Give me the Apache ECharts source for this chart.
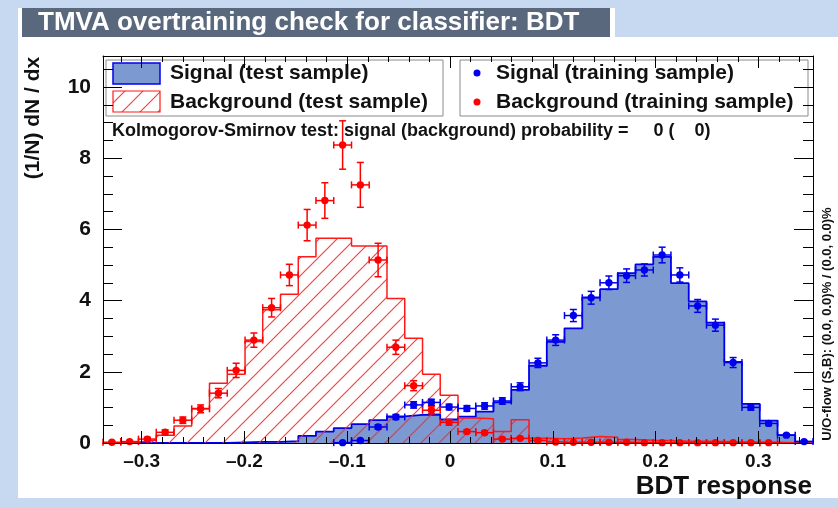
<!DOCTYPE html>
<html><head><meta charset="utf-8">
<script src="https://cdn.jsdelivr.net/npm/echarts@6/dist/echarts.min.js"></script>
<style>html,body{margin:0;padding:0;background:#c6d9f1;}#c{width:838px;height:508px;}</style>
</head><body><div id="c"></div>
<script>
// ---- data ----
const binEdges = [-0.3376,-0.3203,-0.3031,-0.2858,-0.2685,-0.2513,-0.2340,-0.2167,-0.1994,-0.1822,
  -0.1649,-0.1476,-0.1304,-0.1131,-0.0958,-0.0786,-0.0613,-0.0440,-0.0267,-0.0095,
  0.0078,0.0251,0.0423,0.0596,0.0769,0.0942,0.1114,0.1287,0.1460,0.1632,
  0.1805,0.1978,0.2150,0.2323,0.2496,0.2669,0.2841,0.3014,0.3187,0.3359,0.3532];
const signalTest = [0,0,0,0,0,0,0,0.02,0.03,0.03,
  0.05,0.20,0.32,0.42,0.53,0.64,0.75,0.79,0.80,0.66,
  0.74,0.88,1.14,1.49,2.17,2.84,3.22,4.09,4.32,4.77,
  5.02,5.23,4.49,3.98,3.38,2.28,1.10,0.63,0.22,0.04];
const backgroundTest = [0,0.03,0.08,0.22,0.48,0.97,1.68,1.93,2.85,3.74,
  4.18,5.23,5.75,5.75,5.53,5.53,4.06,2.94,1.93,1.34,
  0.70,0.68,0.32,0.65,0.13,0.12,0.14,0.18,0.16,0.10,
  0.08,0.07,0.05,0.05,0.04,0.03,0.02,0.02,0.01,0];
const signalTrain = [null,null,null,null,null,null,null,null,null,null,
  null,null,null,0.01,0.07,0.45,0.73,1.07,1.14,1.01,
  0.97,1.04,1.18,1.58,2.25,2.89,3.58,4.08,4.50,4.70,
  4.86,5.28,4.72,3.85,3.31,2.26,1.00,0.55,0.22,0.04];
const signalTrainErr = [null,null,null,null,null,null,null,null,null,null,
  null,null,null,0.01,0.03,0.06,0.07,0.09,0.09,0.08,
  0.08,0.09,0.09,0.11,0.13,0.15,0.17,0.18,0.19,0.19,
  0.17,0.22,0.20,0.18,0.17,0.14,0.08,0.06,0.04,0.02];
const backgroundTrain = [0.02,0.04,0.11,0.30,0.64,0.96,1.40,2.04,2.89,3.80,
  4.72,6.12,6.81,8.37,7.25,5.14,2.69,1.61,0.92,0.58,
  0.32,0.29,0.11,0.13,0.07,0.03,0.02,0.02,0.02,0.02,
  0.01,0.01,0.01,0.01,0.01,0.01,0.01,0.01,null,null];
const backgroundTrainErr = [0.02,0.03,0.05,0.07,0.09,0.11,0.13,0.20,0.20,0.26,
  0.30,0.44,0.50,0.68,0.63,0.47,0.20,0.14,0.10,0.08,
  0.05,0.05,0.03,0.03,0.02,0.01,0.01,0.01,0.01,0.01,
  0.01,0.01,0.01,0.01,0.01,0.01,0.01,0.01,null,null];
const xTickValues = [-0.3,-0.2,-0.1,0,0.1,0.2,0.3];
const xTickLabels = ['\u20130.3','\u20130.2','\u20130.1','0','0.1','0.2','0.3'];
const xMinorValues = [-0.32,-0.28,-0.26,-0.24,-0.22,-0.18,-0.16,-0.14,-0.12,-0.08,-0.06,-0.04,-0.02,
  0.02,0.04,0.06,0.08,0.12,0.14,0.16,0.18,0.22,0.24,0.26,0.28,0.32,0.34];
const yTickValues = [0,2,4,6,8,10];
const yTickLabels = ['0','2','4','6','8','10'];
const yMinorValues = [0.5,1,1.5,2.5,3,3.5,4.5,5,5.5,6.5,7,7.5,8.5,9,9.5,10.5];
const yMax = 10.87;
const titleText = 'TMVA overtraining check for classifier: BDT';
const legendLabels = ['Signal (test sample)','Background (test sample)','Signal (training sample)','Background (training sample)'];
const ksText = 'Kolmogorov-Smirnov test: signal (background) probability =     0 (    0)';
const overflowText = 'U/O-flow (S,B): (0.0, 0.0)% / (0.0, 0.0)%';

// ---- rendering ----
const FONT = "'Liberation Sans', Arial, Helvetica, sans-serif";
const SIG_LINE = '#0000ee', SIG_FILL = '#7d99d1', BKG = '#ff1a1a';

function hatchCanvas(){
  const c = document.createElement('canvas'); c.width = 18; c.height = 18;
  const g = c.getContext('2d');
  g.strokeStyle = 'rgba(245,45,45,0.9)'; g.lineWidth = 1.2;
  g.beginPath();
  g.moveTo(0,18); g.lineTo(18,0);
  g.moveTo(-3,3); g.lineTo(3,-3);
  g.moveTo(15,21); g.lineTo(21,15);
  g.stroke();
  return c;
}
const hatch = {image: hatchCanvas(), repeat: 'repeat'};

function stepData(vals){
  return binEdges.map((e,k) => [e, vals[Math.min(k, vals.length-1)]]);
}
function pointData(vals, errs){
  const out = [];
  vals.forEach((v,k) => {
    if (v == null) return;
    out.push([(binEdges[k]+binEdges[k+1])/2, v, errs[k], (binEdges[k+1]-binEdges[k])/2]);
  });
  return out;
}
function errRender(color){
  return function(params, api){
    const x = api.value(0), y = api.value(1), e = api.value(2), hw = api.value(3);
    const c = api.coord([x,y]), l = api.coord([x-hw,y]), r = api.coord([x+hw,y]);
    const t = api.coord([x,y+e]), b = api.coord([x,y-e]);
    const cap = 3.5, st = {stroke: color, lineWidth: 1.5};
    return {type:'group', children:[
      {type:'line', shape:{x1:l[0],y1:l[1],x2:r[0],y2:r[1]}, style:st},
      {type:'line', shape:{x1:l[0],y1:l[1]-cap,x2:l[0],y2:l[1]+cap}, style:st},
      {type:'line', shape:{x1:r[0],y1:r[1]-cap,x2:r[0],y2:r[1]+cap}, style:st},
      {type:'line', shape:{x1:t[0],y1:t[1],x2:b[0],y2:b[1]}, style:st},
      {type:'line', shape:{x1:t[0]-cap,y1:t[1],x2:t[0]+cap,y2:t[1]}, style:st},
      {type:'line', shape:{x1:b[0]-cap,y1:b[1],x2:b[0]+cap,y2:b[1]}, style:st},
      {type:'circle', shape:{cx:c[0],cy:c[1],r:3.7}, style:{fill:color}}
    ]};
  };
}

const X0 = binEdges[0], X1 = binEdges[binEdges.length-1];
const blackLine = {color:'#000', width:1};
function xAx(pos, values, len, withLine, withLabel){
  return {type:'value', position:pos, min:X0, max:X1, z:10,
    splitLine:{show:false},
    axisLine:{show:withLine, onZero:false, lineStyle:blackLine},
    axisTick:{show:true, inside:true, length:len, customValues:values, lineStyle:blackLine},
    axisLabel:{show:withLabel, customValues:values, margin:9,
      formatter:(v)=>{const i = xTickValues.findIndex(t=>Math.abs(t-v)<1e-9); return i<0?'':xTickLabels[i];},
      fontSize:19, fontWeight:'bold', fontFamily:FONT, color:'#111'}};
}
function yAx(pos, values, len, withLine, withLabel){
  return {type:'value', position:pos, min:0, max:yMax, z:10,
    splitLine:{show:false},
    axisLine:{show:withLine, onZero:false, lineStyle:blackLine},
    axisTick:{show:true, inside:true, length:len, customValues:values, lineStyle:blackLine},
    axisLabel:{show:withLabel, customValues:values, margin:12,
      formatter:(v)=>{const i = yTickValues.findIndex(t=>Math.abs(t-v)<1e-9); return i<0?'':yTickLabels[i];},
      fontSize:21, fontWeight:'bold', fontFamily:FONT, color:'#111'}};
}

const chart = echarts.init(document.getElementById('c'), null, {renderer:'canvas', width:838, height:508});
chart.setOption({
  animation:false,
  backgroundColor:'transparent',
  grid:{left:103, top:56, width:710, height:387, containLabel:false},
  xAxis:[
    xAx('bottom', xTickValues, 12, true, true),
    xAx('bottom', xMinorValues, 6, false, false),
    xAx('top', xTickValues, 12, true, false),
    xAx('top', xMinorValues, 6, false, false)
  ],
  yAxis:[
    yAx('left', yTickValues, 19, true, true),
    yAx('left', yMinorValues, 10, false, false),
    yAx('right', yTickValues, 19, true, false),
    yAx('right', yMinorValues, 10, false, false)
  ],
  series:[
    {name:legendLabels[0], type:'line', step:'end', data:stepData(signalTest), symbol:'none', z:2,
      lineStyle:{color:SIG_LINE, width:1.8}, areaStyle:{color:SIG_FILL, opacity:1}},
    {name:legendLabels[1], type:'line', step:'end', data:stepData(backgroundTest), symbol:'none', z:3,
      lineStyle:{color:BKG, width:1.5}, areaStyle:{color:hatch, opacity:1}},
    {name:legendLabels[2], type:'custom', renderItem:errRender(SIG_LINE), data:pointData(signalTrain, signalTrainErr), z:5},
    {name:legendLabels[3], type:'custom', renderItem:errRender('#ff0000'), data:pointData(backgroundTrain, backgroundTrainErr), z:5}
  ],
  graphic:[
    {type:'rect', z:-100, shape:{x:18,y:37,width:820,height:461}, style:{fill:'#ffffff'}},
    {type:'rect', z:-100, shape:{x:18,y:8,width:597,height:30}, style:{fill:'#ffffff'}},
    {type:'rect', z:-99, shape:{x:22,y:8,width:588,height:29}, style:{fill:'#59687d'}},
    {type:'text', z:-98, x:38, y:23, style:{text:titleText, fill:'#ffffff', font:'bold 26px '+FONT, textVerticalAlign:'middle', verticalAlign:'middle'}},
    // legend boxes
    {type:'rect', z:1, shape:{x:106,y:60,width:337,height:56}, style:{fill:'#ffffff', stroke:'#8a8a8a', lineWidth:1}},
    {type:'rect', z:1, shape:{x:460,y:60,width:348,height:56}, style:{fill:'#ffffff', stroke:'#8a8a8a', lineWidth:1}},
    {type:'rect', z:1, shape:{x:113,y:63,width:47,height:21}, style:{fill:SIG_FILL, stroke:SIG_LINE, lineWidth:1.5}},
    {type:'rect', z:1, shape:{x:113,y:91,width:47,height:21}, style:{fill:hatch, stroke:BKG, lineWidth:1.2}},
    {type:'text', z:1, x:170, y:73, style:{text:legendLabels[0], fill:'#111', font:'bold 21px '+FONT, textVerticalAlign:'middle', verticalAlign:'middle'}},
    {type:'text', z:1, x:170, y:102, style:{text:legendLabels[1], fill:'#111', font:'bold 21px '+FONT, textVerticalAlign:'middle', verticalAlign:'middle'}},
    {type:'circle', z:1, shape:{cx:477,cy:73,r:3.5}, style:{fill:SIG_LINE}},
    {type:'circle', z:1, shape:{cx:477,cy:102,r:3.5}, style:{fill:'#ff0000'}},
    {type:'text', z:1, x:496, y:73, style:{text:legendLabels[2], fill:'#111', font:'bold 21px '+FONT, textVerticalAlign:'middle', verticalAlign:'middle'}},
    {type:'text', z:1, x:496, y:102, style:{text:legendLabels[3], fill:'#111', font:'bold 21px '+FONT, textVerticalAlign:'middle', verticalAlign:'middle'}},
    {type:'text', z:1, x:112, y:131, style:{text:ksText, fill:'#111', font:'bold 18px '+FONT, textVerticalAlign:'middle', verticalAlign:'middle'}},
    // axis titles
    {type:'text', z:1, x:33, y:118, rotation:Math.PI/2, style:{text:'(1/N) dN / dx', fill:'#111', font:'bold 21px '+FONT, textAlign:'center', align:'center', textVerticalAlign:'middle', verticalAlign:'middle'}},
    {type:'text', z:1, x:812, y:487, style:{text:'BDT response', fill:'#111', font:'bold 26px '+FONT, textAlign:'right', align:'right', textVerticalAlign:'middle', verticalAlign:'middle'}},
    {type:'text', z:1, x:827, y:324, rotation:Math.PI/2, style:{text:overflowText, fill:'#111', font:'bold 13px '+FONT, textAlign:'center', align:'center', textVerticalAlign:'middle', verticalAlign:'middle'}}
  ]
});
</script></body></html>
